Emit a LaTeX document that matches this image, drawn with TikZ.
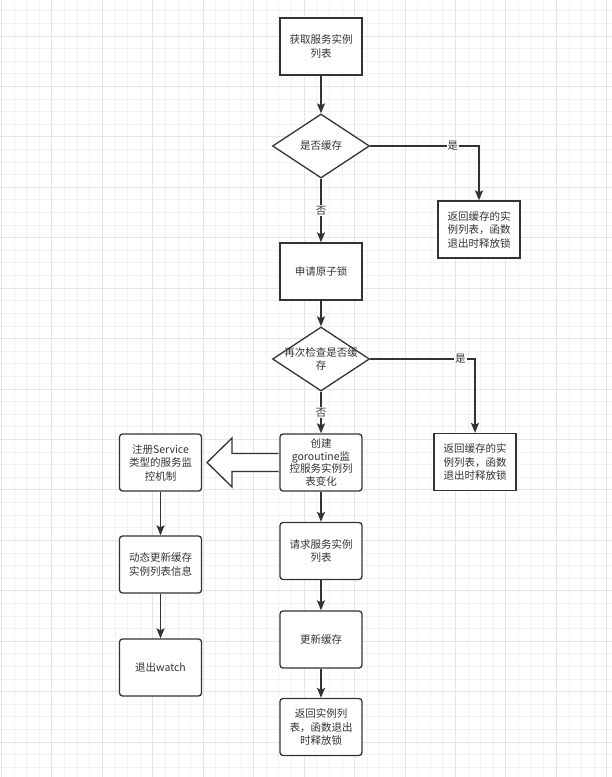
\documentclass[tikz,border=0pt]{standalone}
\usepackage{fontspec}
\newfontfamily\cjk{Noto Sans CJK SC}
\usetikzlibrary{arrows.meta,shapes.geometric,calc}
\definecolor{ink}{HTML}{333333}
\definecolor{gridminor}{HTML}{F2F2F2}
\definecolor{gridmajor}{HTML}{E6E6E6}
\begin{document}
\begin{tikzpicture}[x=1pt,y=-1pt,
  txt/.style={text=ink,font=\cjk\fontsize{10.5}{13.5}\selectfont},
  box/.style={txt,draw=ink,line width=1.3pt,fill=white,minimum width=82pt,minimum height=57pt,inner sep=0.5pt,align=center},
  rbox/.style={box,rounded corners=3pt},
  dec/.style={diamond,draw=ink,line width=1.3pt,fill=white,minimum width=97pt,minimum height=64pt,inner sep=0pt},
  dectext/.style={txt,align=center,inner sep=0pt},
  conn/.style={draw=ink,line width=1.6pt,-{Stealth[length=10pt,width=8pt,inset=2pt]}},
  lbl/.style={txt,fill=white,inner sep=1pt},
  hollow/.style={draw=ink,line width=1.3pt,fill=white}]
\useasboundingbox (0,0) rectangle (612,777);
\fill[white] (0,0) rectangle (612,777);
% grid
\foreach \k in {0,...,48} {\pgfmathsetmacro\xx{1.55+12.61*\k}
  \draw[gridminor,line width=1pt] (\xx,0) -- (\xx,777);}
\foreach \k in {-1,...,60} {\pgfmathsetmacro\yy{10.78+12.61*\k}
  \draw[gridminor,line width=1pt] (0,\yy) -- (612,\yy);}
\foreach \k in {0,...,12} {\pgfmathsetmacro\xx{1.55+50.44*\k}
  \draw[gridmajor,line width=1pt] (\xx,0) -- (\xx,777);}
\foreach \k in {-1,...,15} {\pgfmathsetmacro\yy{36+50.44*\k}
  \draw[gridmajor,line width=1pt] (0,\yy) -- (612,\yy);}
% nodes
\node[box] (b1) at (321,46.5) {获取服务实例\\列表};
\node[dec,label={[dectext]center:是否缓存}] (d1) at (321,146) {};
\node[box] (r1) at (479,229.5) {返回缓存的实\\例列表，函数\\退出时释放锁};
\node[box] (b3) at (321,271.5) {申请原子锁};
\node[dec,label={[dectext]center:再次检查是否缓\\存}] (d2) at (321,359) {};
\node[box] (r2) at (475,462) {返回缓存的实\\例列表，函数\\退出时释放锁};
\node[rbox,font=\cjk\fontsize{10.5}{12.7}\selectfont] (cr) at (321,462.5) {创建\\goroutine监\\控服务实例列\\表变化};
\node[rbox] (reg) at (160.5,462.5) {注册Service\\类型的服务监\\控机制};
\node[rbox] (dyn) at (160.5,564.5) {动态更新缓存\\实例列表信息};
\node[rbox] (ex) at (160.5,667.5) {退出watch};
\node[rbox] (req) at (321,551) {请求服务实例\\列表};
\node[rbox] (upd) at (321,639.5) {更新缓存};
\node[rbox] (ret) at (321,727) {返回实例列\\表，函数退出\\时释放锁};
% connectors
\draw[conn] (b1) -- (d1);
\draw[conn] (d1) -- node[lbl]{否} (b3);
\draw[conn] (d1.east) -- node[lbl,pos=0.76]{是} (d1.east -| r1.north) -- (r1.north);
\draw[conn] (b3) -- (d2);
\draw[conn] (d2) -- node[lbl]{否} (cr);
\draw[conn] (d2.east) -- node[lbl,pos=0.86]{是} (d2.east -| r2.north) -- (r2.north);
\draw[conn] (cr) -- (req);
\draw[conn] (req) -- (upd);
\draw[conn] (upd) -- (ret);
\draw[conn] (reg) -- (dyn);
\draw[conn] (dyn) -- (ex);
% hollow arrow
\draw[hollow] ($(cr.west)+(-0.7,-9)$) -- ($(cr.west)+(-47.3,-9)$) -- ($(cr.west)+(-47.3,-24.5)$)
  -- ($(cr.west)+(-72.3,0)$) -- ($(cr.west)+(-47.3,24.5)$) -- ($(cr.west)+(-47.3,9)$) -- ($(cr.west)+(-0.7,9)$);
\end{tikzpicture}
\end{document}
